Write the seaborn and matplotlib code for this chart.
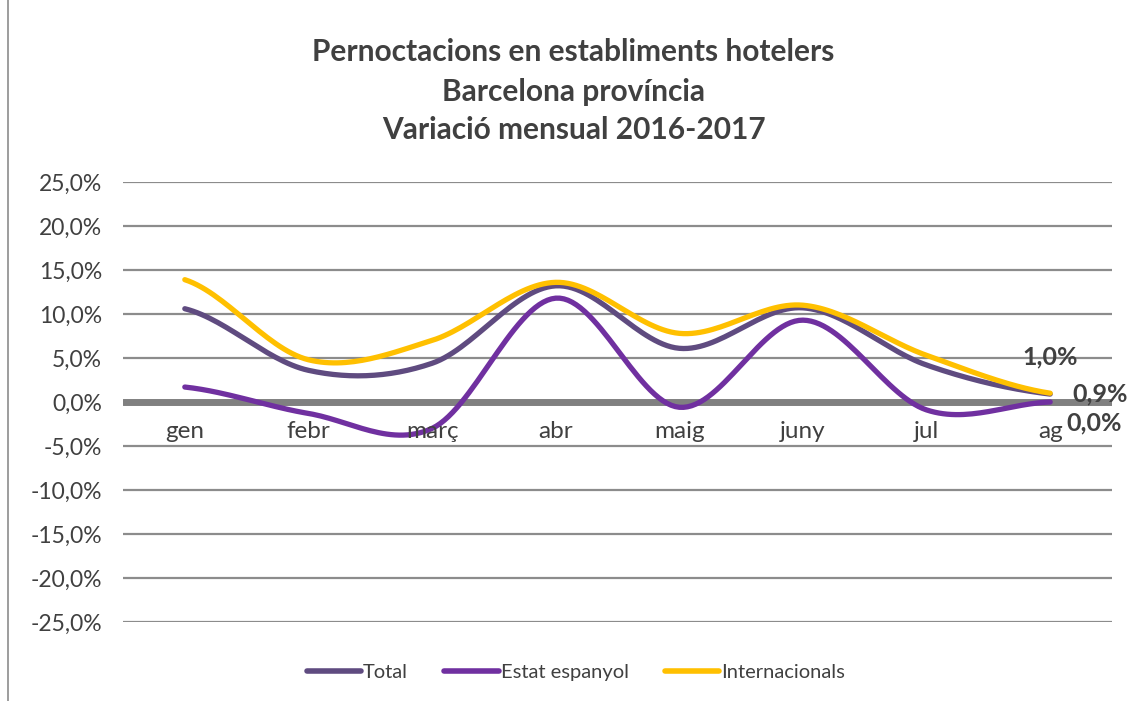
import numpy as np
import pandas as pd
import matplotlib.pyplot as plt
import seaborn as sns
from matplotlib.lines import Line2D
from matplotlib.ticker import FuncFormatter

months = ['gen', 'febr', 'març', 'abr', 'maig', 'juny', 'jul', 'ag']
total = [10.6, 3.6, 4.4, 13.2, 6.1, 10.7, 4.2, 0.9]
estat_espanyol = [1.7, -1.3, -3.0, 11.8, -0.6, 9.3, -0.9, 0.0]
internacionals = [13.9, 4.8, 7.0, 13.6, 7.8, 11.0, 5.3, 1.0]

series_names = ['Total', 'Estat espanyol', 'Internacionals']
colors = {'Total': '#5F4B80', 'Estat espanyol': '#7030A0', 'Internacionals': '#FFC000'}


def smooth(y, steps=30):
    # Excel-style smoothed line (Catmull-Rom through every data point)
    y = np.asarray(y, dtype=float)
    p = np.concatenate([[y[0]], y, [y[-1]]])
    xs, ys = [], []
    for i in range(len(y) - 1):
        p0, p1, p2, p3 = p[i], p[i + 1], p[i + 2], p[i + 3]
        t = np.linspace(0, 1, steps, endpoint=False)
        seg = 0.5 * ((2 * p1) + (-p0 + p2) * t + (2 * p0 - 5 * p1 + 4 * p2 - p3) * t ** 2
                     + (-p0 + 3 * p1 - 3 * p2 + p3) * t ** 3)
        xs.append(i + t)
        ys.append(seg)
    xs.append([len(y) - 1])
    ys.append([y[-1]])
    return np.concatenate(xs), np.concatenate(ys)


frames = []
for name, vals in zip(series_names, [total, estat_espanyol, internacionals]):
    sx, sy = smooth(vals)
    frames.append(pd.DataFrame({'x': sx, 'value': sy, 'serie': name}))
df = pd.concat(frames, ignore_index=True)

sns.set_style('white')
plt.rcParams['font.family'] = ['Lato', 'DejaVu Sans']
text_color = '#404040'

fig = plt.figure(figsize=(11.29, 7.01), dpi=100)
ax = fig.add_axes([123 / 1129, 1 - 622 / 701, (1112 - 123) / 1129, (622 - 182) / 701])

for y in np.arange(-25, 26, 5):
    if y != 0:
        ax.axhline(y, color='#8C8C8C', lw=1.6, zorder=0)
ax.axhline(0, color='#808080', lw=5, zorder=1)

sns.lineplot(data=df, x='x', y='value', hue='serie', hue_order=series_names,
             palette=colors, linewidth=3.8, sort=False, estimator=None,
             legend=False, ax=ax, zorder=3)
for line in ax.lines:
    line.set_solid_capstyle('round')

ax.set_xlim(-0.5, len(months) - 0.5)
ax.set_ylim(-25, 25)
ax.set_yticks(np.arange(-25, 26, 5))
ax.yaxis.set_major_formatter(FuncFormatter(lambda v, _: f'{v:.1f}%'.replace('.', ',')))
ax.tick_params(axis='y', labelsize=16.5, labelcolor=text_color, length=0, pad=15)
ax.set_xticks([])
for i, m in enumerate(months):
    ax.text(i, -2.2, m, ha='center', va='top', fontsize=17.5, color=text_color)
ax.set_xlabel('')
ax.set_ylabel('')
sns.despine(ax=ax, left=True, bottom=True)

# data labels at last month
last = len(months) - 1
lab = dict(fontsize=18, fontweight='bold', color=text_color, annotation_clip=False)
ax.annotate(f'{internacionals[-1]:.1f}%'.replace('.', ','), (last, internacionals[-1]),
            xytext=(0, 26), textcoords='offset points', ha='center', va='center', **lab)
ax.annotate(f'{total[-1]:.1f}%'.replace('.', ','), (last, total[-1]),
            xytext=(16, 0), textcoords='offset points', ha='left', va='center', **lab)
ax.annotate(f'{estat_espanyol[-1]:.1f}%'.replace('.', ','), (last, estat_espanyol[-1]),
            xytext=(12, -15), textcoords='offset points', ha='left', va='center', **lab)

fig.text(0.508, 1 - 52 / 701, 'Pernoctacions en establiments hotelers', ha='center', va='center',
         fontsize=21.5, fontweight='bold', color=text_color)
fig.text(0.508, 1 - 92 / 701, 'Barcelona província', ha='center', va='center',
         fontsize=21.5, fontweight='bold', color=text_color)
fig.text(0.508, 1 - 130 / 701, 'Variació mensual 2016-2017', ha='center', va='center',
         fontsize=21.5, fontweight='bold', color=text_color)

handles = [Line2D([0], [0], color=colors[n], lw=4, solid_capstyle='round') for n in series_names]
fig.legend(handles, series_names, loc='center', bbox_to_anchor=(0.51, 1 - 672 / 701), ncol=3,
           frameon=False, fontsize=14.5, handlelength=2.7, handletextpad=0.1, columnspacing=1.8,
           labelcolor=text_color)

fig.add_artist(Line2D([8 / 1129, 8 / 1129], [0, 1], transform=fig.transFigure, color='#8C8C8C', lw=1.2))

fig.savefig('out.png', dpi=100, facecolor='white')
